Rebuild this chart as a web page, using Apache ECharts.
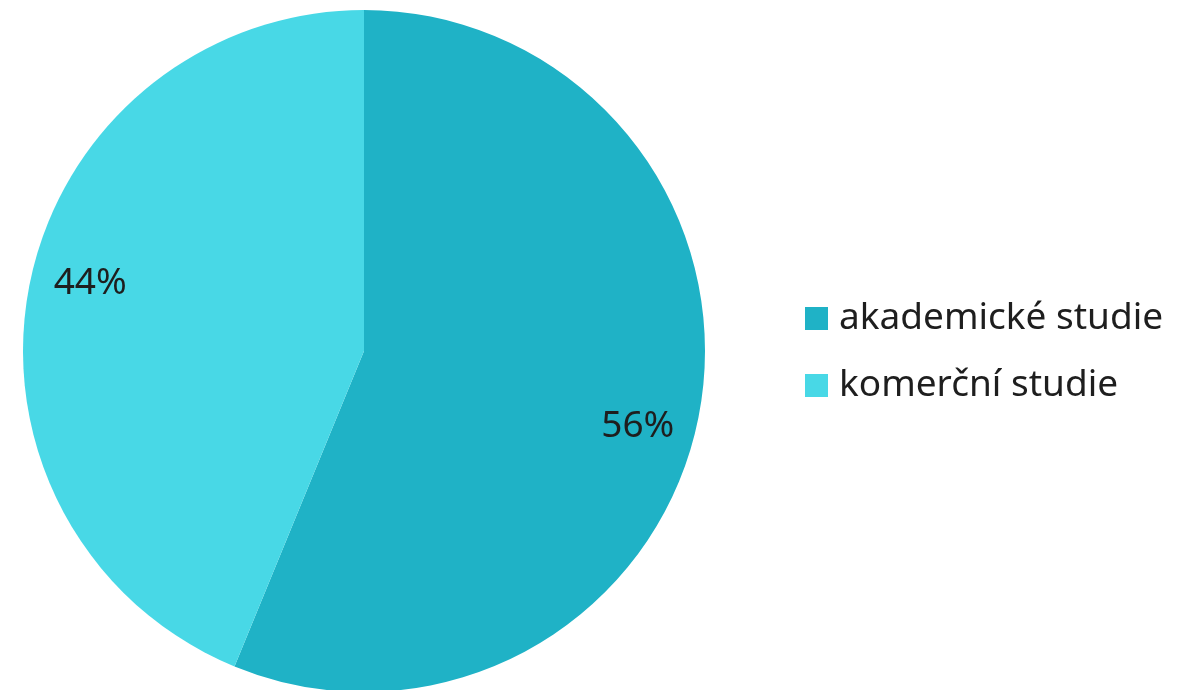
<!DOCTYPE html>
<html><head><meta charset="utf-8">
<script src="https://cdn.jsdelivr.net/npm/echarts@6/dist/echarts.min.js"></script>
<style>html,body{margin:0;padding:0;background:#fff}#c{width:1181px;height:690px}</style>
</head><body><div id="c"></div>
<script>
const categories = ['akademické studie', 'komerční studie'];
const values = [56.2, 43.8];
const colors = ['#1fb2c6', '#48d8e6'];

const data = categories.map((n, i) => ({ name: n, value: values[i], itemStyle: { color: colors[i] } }));
const chart = echarts.init(document.getElementById('c'));
chart.setOption({
  animation: false,
  textStyle: { fontFamily: 'Noto Sans' },
  legend: {
    orient: 'vertical', left: 800, top: 295,
    itemWidth: 23, itemHeight: 23, itemGap: 30, icon: 'rect',
    data: categories,
    textStyle: { fontSize: 37, color: '#1e1e1e', fontFamily: 'Noto Sans', padding: [0, 0, 0, 6] }
  },
  series: [{
    type: 'pie', center: [364, 351], radius: [0, 341], startAngle: 90, clockwise: true,
    data: data, label: { show: false }, labelLine: { show: false }, silent: true
  }, {
    type: 'pie', center: [364, 351], radius: [270, 290], startAngle: 86.5, clockwise: true,
    data: categories.map((n, i) => ({ name: n, value: values[i], itemStyle: { color: 'rgba(0,0,0,0)' } })),
    label: { show: true, position: 'inside', formatter: p => Math.round(p.value) + '%', fontSize: 37, color: '#1e1e1e', fontFamily: 'Noto Sans', offset: [0, 4] },
    labelLine: { show: false }, silent: true, legendHoverLink: false
  }]
});
</script></body></html>
